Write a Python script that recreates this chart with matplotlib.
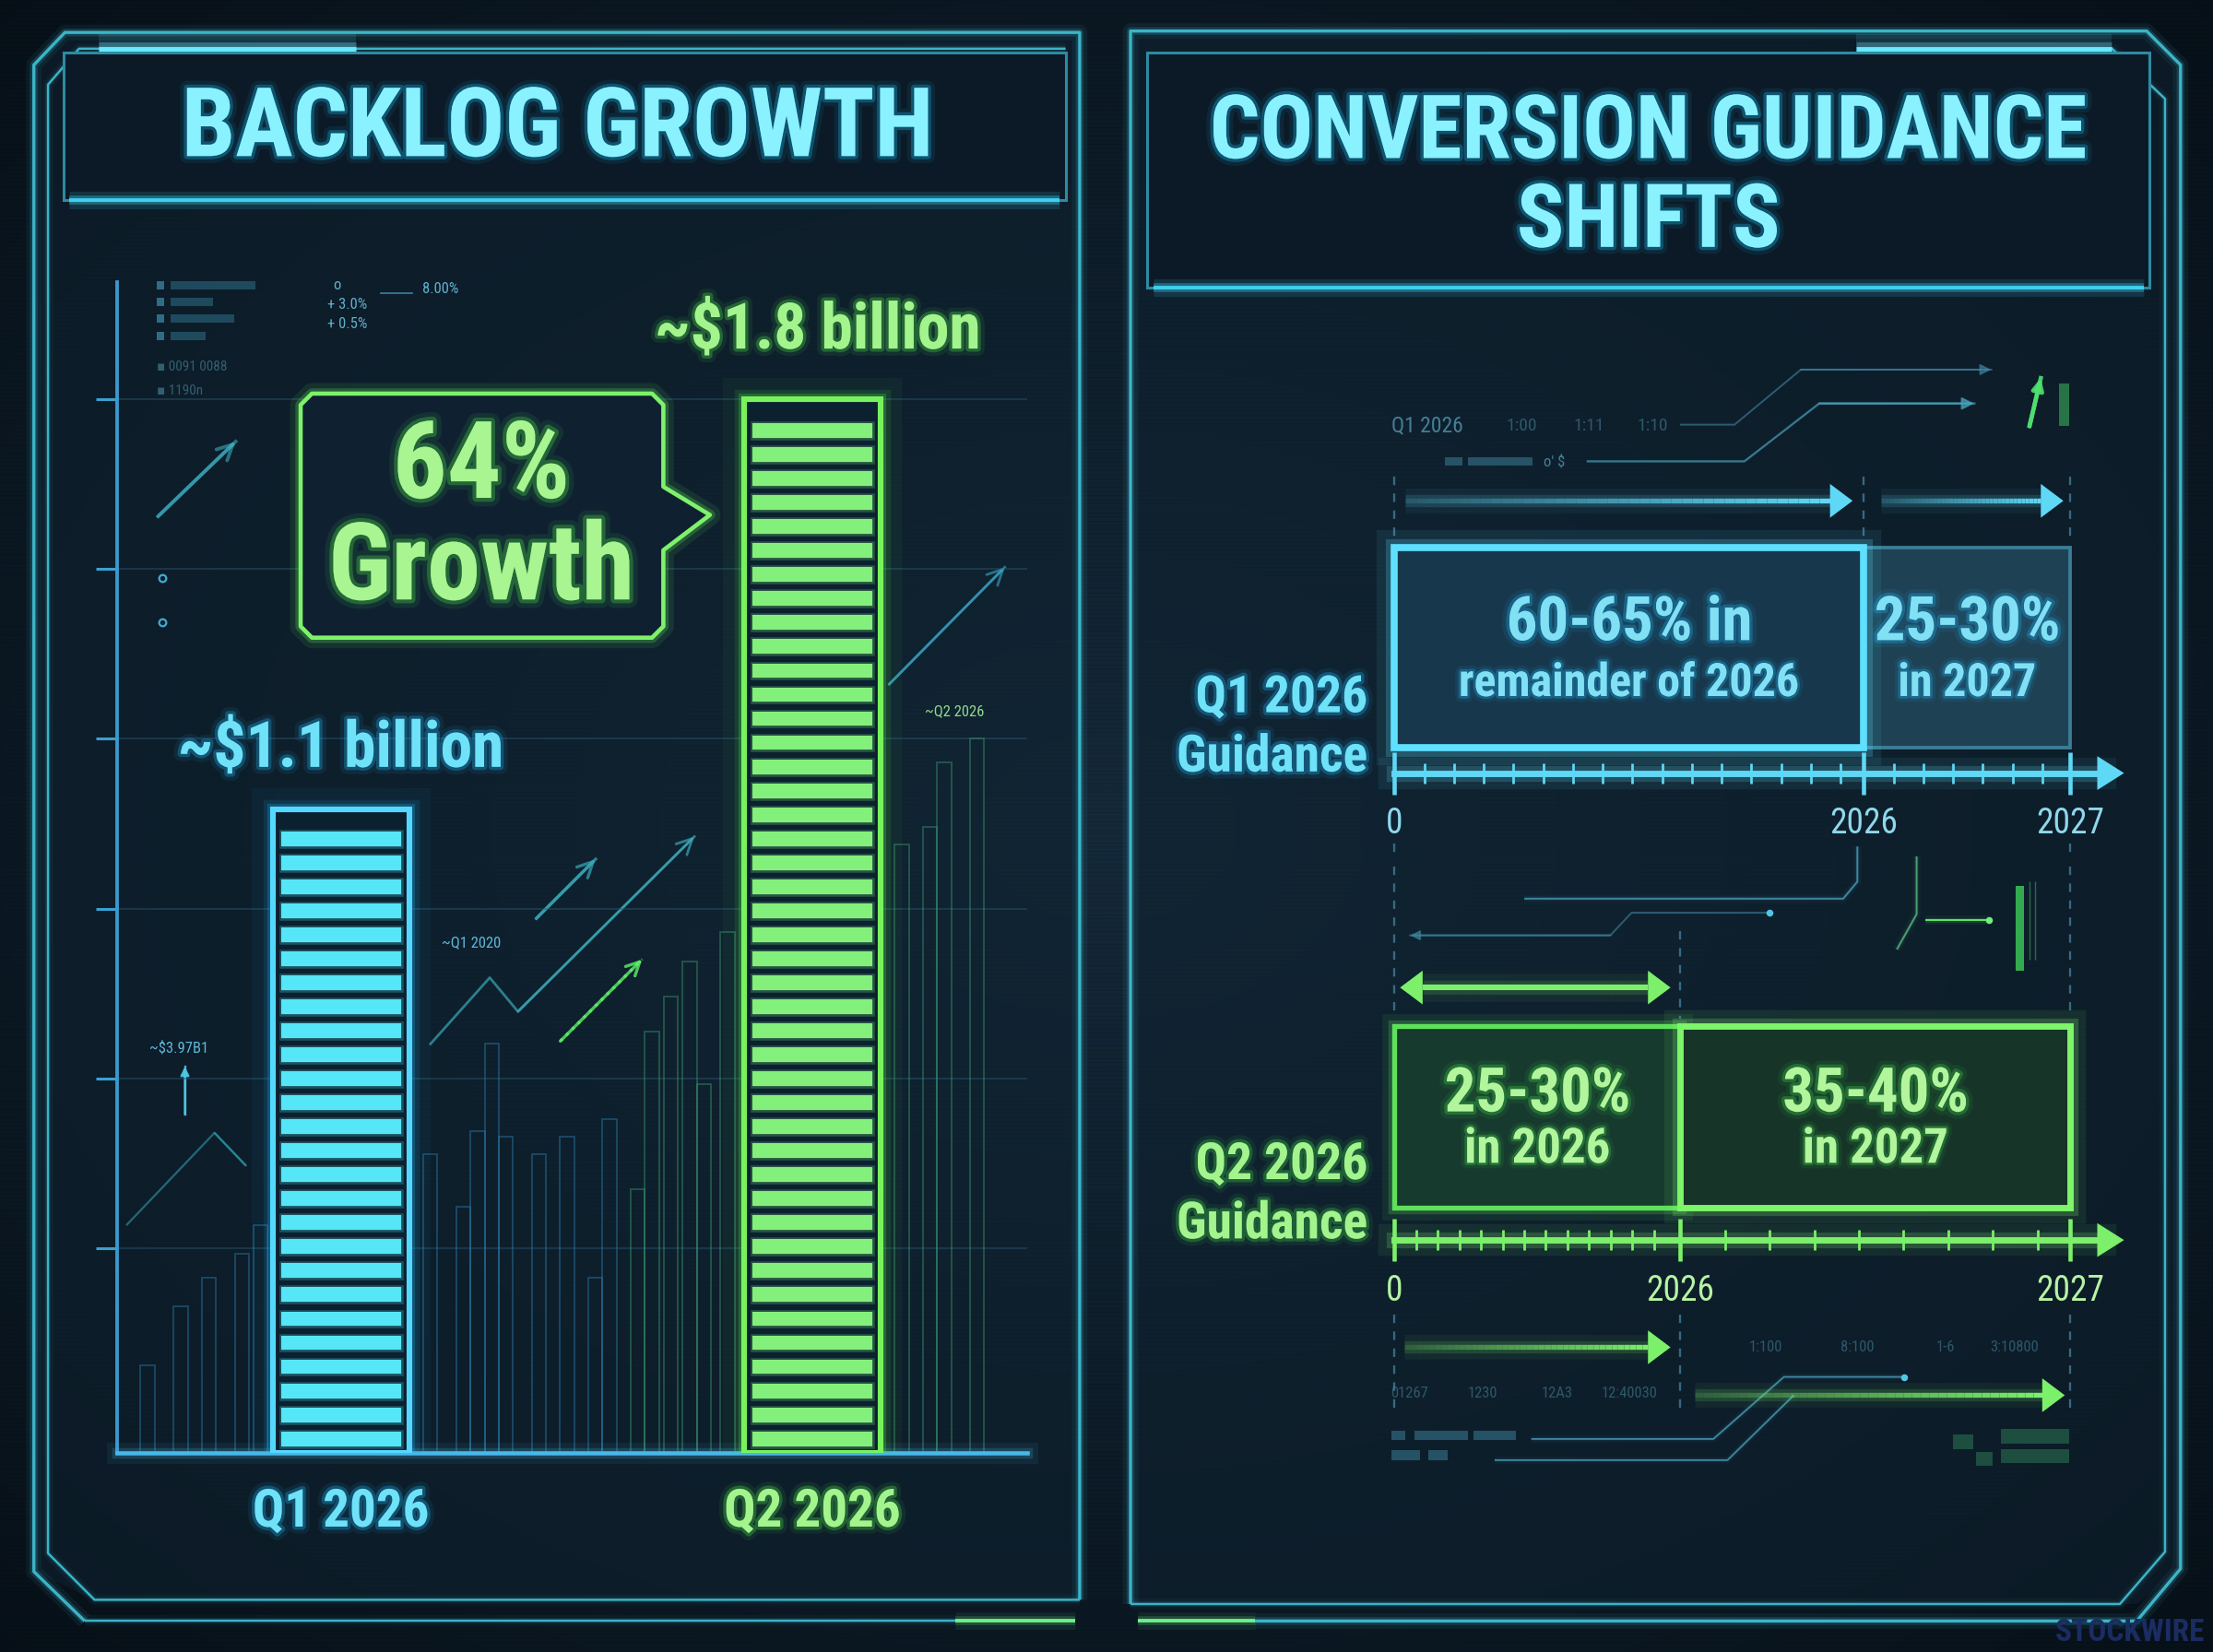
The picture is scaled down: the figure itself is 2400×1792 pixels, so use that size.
import numpy as np
import matplotlib
matplotlib.use('Agg')
import matplotlib.pyplot as plt
import matplotlib.patheffects as pe
from matplotlib import font_manager
from matplotlib.patches import Polygon, Rectangle
from matplotlib.collections import LineCollection
from matplotlib.ticker import FixedLocator

# ---------------- data ----------------
quarters = ['Q1 2026', 'Q2 2026']
backlog_bn = [1.1, 1.8]
bar_labels = ['~$1.1 billion', '~$1.8 billion']

row_labels = ['Q1 2026\nGuidance', 'Q2 2026\nGuidance']
q1_ranges = [(60, 65), (25, 30)]
q2_ranges = [(25, 30), (35, 40)]
q1_texts = [('60-65% in', 'remainder of 2026'), ('25-30%', 'in 2027')]
q2_texts = [('25-30%', 'in 2026'), ('35-40%', 'in 2027')]
axis_labels = ['0', '2026', '2027']

# faint backdrop columns behind the backlog bars (x in bar slots, height in $bn)
bg_x = [-0.41, -0.34, -0.28, -0.21, -0.17, 0.19, 0.26, 0.29, 0.32, 0.35, 0.42,
        0.48, 0.54, 0.57, 0.63, 0.66, 0.70, 0.74, 0.77, 0.82, 1.19, 1.25, 1.28, 1.35]
bg_h = [0.15, 0.25, 0.30, 0.34, 0.39, 0.51, 0.42, 0.55, 0.70, 0.54, 0.51,
        0.54, 0.30, 0.57, 0.45, 0.72, 0.78, 0.84, 0.63, 0.89, 1.04, 1.07, 1.18, 1.22]

# ---------------- fonts ----------------
_names = {f.name for f in font_manager.fontManager.ttflist}
COND = [n for n in ['Roboto Condensed', 'Liberation Sans Narrow', 'DejaVu Sans Condensed',
                    'Open Sans Condensed'] if n in _names] + ['DejaVu Sans']
plt.rcParams['font.family'] = COND
plt.rcParams['font.stretch'] = 'condensed'

W, H = 1568, 1171          # reference layout units
P = 2400 / W * 0.72        # points per layout unit

CYAN = '#6fe2f8'
CYAN_T = '#8af2ff'
GREEN = '#a4f48e'
FRAME = '#3cb4c8'


def tglow(c, w=6, a=0.35):
    return [pe.Stroke(linewidth=w * 2.2, foreground=c, alpha=a * 0.3),
            pe.Stroke(linewidth=w, foreground=c, alpha=a),
            pe.Normal()]


def lglow(c, lw, a=0.2):
    return [pe.Stroke(linewidth=lw * 5, foreground=c, alpha=a * 0.4),
            pe.Stroke(linewidth=lw * 2.5, foreground=c, alpha=a),
            pe.Normal()]


fig = plt.figure(figsize=(24, 17.92), dpi=100)
fig.patch.set_facecolor('#09141e')

# ---------------- background layer ----------------
bg = fig.add_axes([0, 0, 1, 1], zorder=0)
yy, xx = np.mgrid[0:H:4, 0:W:4]
r = np.sqrt(((xx - W / 2) / (W / 2)) ** 2 + ((yy - H / 2) / (H / 2)) ** 2)
c0 = np.array([0x14, 0x29, 0x39]) / 255
c1 = np.array([0x07, 0x10, 0x18]) / 255
t = np.clip(r / 1.45, 0, 1)[..., None]
bg.imshow(c0 * (1 - t) + c1 * t, extent=(0, W, H, 0), aspect='auto',
          interpolation='bilinear', zorder=0)
bg.set_xlim(0, W)
bg.set_ylim(H, 0)
bg.axis('off')
bg.hlines(np.arange(0, H, 3), 0, W, color='black', lw=0.5, alpha=0.12, zorder=0.5)


def gline(pts, c=FRAME, lw=2.0, a=0.2, z=2, ax=bg, **kw):
    xs, ys = zip(*pts)
    ax.plot(xs, ys, color=c, lw=lw * P, solid_capstyle='butt', zorder=z,
            path_effects=lglow(c, lw * P, a), **kw)


def arrow(pts, c, lw=1.5, a=0.8, ls='-', style='->', ms=22, ax=bg):
    xs, ys = zip(*pts)
    ax.plot(xs, ys, color=c, lw=lw * P, alpha=a, ls=ls, zorder=2)
    ax.annotate('', xy=pts[-1], xytext=pts[-2], zorder=2,
                arrowprops=dict(arrowstyle=style, color=c, lw=lw * P, alpha=a,
                                shrinkA=0, shrinkB=0, mutation_scale=ms))


# panel fills
bg.add_patch(Polygon([(24, 46), (46, 23), (765, 23), (765, 1134), (67, 1134), (24, 1114)],
                     closed=True, fc='#0f2230', ec='none', alpha=0.55, zorder=1))
bg.add_patch(Polygon([(801, 22), (1521, 22), (1545, 46), (1545, 1112), (1514, 1137), (801, 1137)],
                     closed=True, fc='#0f2230', ec='none', alpha=0.55, zorder=1))

# left panel frame
gline([(60, 1149), (24, 1114), (24, 46), (46, 23), (765, 23), (765, 1134)], lw=2.2)
gline([(765, 1134), (67, 1134), (34, 1101), (34, 60), (56, 34.5), (755, 34.5)], lw=1.6, a=0.12)
gline([(60, 1149), (677, 1149)], lw=1.6, a=0.12)
gline([(677, 1149), (762, 1149)], c='#6ff08a', lw=2.5)
gline([(70, 35.6), (252, 35.6)], c='#6ae8ff', lw=4.5, a=0.3)
# right panel frame
gline([(801, 1137), (801, 22), (1521, 22), (1545, 46), (1545, 1112), (1514, 1149), (889, 1149)], lw=2.2)
gline([(1496, 34), (1534, 70), (1534, 1100), (1502, 1137), (801, 1137)], lw=1.6, a=0.12)
gline([(806, 1149), (889, 1149)], c='#6ff08a', lw=2.5)
gline([(1315, 35), (1496, 35)], c='#6ae8ff', lw=4.5, a=0.3)

# title boxes
for (x0, y0, x1, y1) in [(45, 37.5, 755, 142), (813, 37, 1523, 204)]:
    bg.add_patch(Rectangle((x0, y0), x1 - x0, y1 - y0, fc='#0b1a26', ec='#2d8aa2',
                           lw=2 * P, zorder=2))
    gline([(x0 + 4, y1), (x1 - 4, y1)], c='#3fd0f0', lw=2.5, a=0.35, z=3)

bg.text(395, 92, 'BACKLOG GROWTH', ha='center', va='center', fontsize=75,
        fontweight='bold', color=CYAN_T, zorder=4, path_effects=tglow('#18b8f0', 5, 0.3))
bg.text(1168, 95, 'CONVERSION GUIDANCE', ha='center', va='center', fontsize=69,
        fontweight='bold', color=CYAN_T, zorder=4, path_effects=tglow('#18b8f0', 5, 0.3))
bg.text(1168, 158, 'SHIFTS', ha='center', va='center', fontsize=69,
        fontweight='bold', color=CYAN_T, zorder=4, path_effects=tglow('#18b8f0', 5, 0.3))

# left panel decorations
dim = '#3e8fae'
for yy_, ww in zip([202, 214, 226, 238], [60, 30, 45, 25]):
    bg.add_patch(Rectangle((111, yy_ - 3), 5, 6, fc=dim, ec='none', alpha=0.7, zorder=2))
    bg.add_patch(Rectangle((121, yy_ - 3), ww, 6, fc=dim, ec='none', alpha=0.4, zorder=2))
bg.plot([270, 292], [208, 208], color=dim, lw=1.2 * P, alpha=0.8)
small = dict(fontsize=12, color='#5fb0cc', fontweight='normal', va='center', zorder=2)
bg.text(299, 205, '8.00%', **small)
bg.text(232, 216, '+ 3.0%', **small)
bg.text(232, 230, '+ 0.5%', **small)
bg.text(236, 202, 'o', **small)
bg.text(111, 260, '▪ 0091 0088', alpha=0.45, **dict(small, fontsize=11))
bg.text(111, 277, '▪ 1190n', alpha=0.45, **dict(small, fontsize=11))
bg.plot([115, 115], [410, 441], ls='none', marker='o', ms=5 * P, mfc='none',
        mec='#3fa8d0', mew=1.5 * P, zorder=2)
arrow([(112, 366), (167, 313)], '#3fb8c8', lw=2.5, a=0.55, style='->', ms=30)
arrow([(90, 868), (152, 803), (174, 826)], '#2f9aa8', lw=1.5, a=0.6, style='-')
arrow([(131, 790), (131, 756)], '#4fc8e8', lw=1.5, a=0.9, style='-|>', ms=14)
bg.text(106, 743, '~$3.97B1', **dict(small, color='#5fb8d8'))
arrow([(305, 740), (347, 693), (367, 717), (492, 593)], '#3aa8b8', lw=1.8, a=0.7, ms=30)
arrow([(380, 651), (422, 609)], '#3aa8b8', lw=2.2, a=0.7, ms=30)
arrow([(397, 738), (455, 680)], '#5ff06a', lw=2.2, a=0.8, ls=':', ms=26)
bg.text(313, 668, '~Q1 2020', **dict(small, color='#5fb8d8'))
arrow([(630, 485), (712, 402)], '#3aa8c8', lw=1.8, a=0.6, ms=30)
bg.text(655, 504, '~Q2 2026', **dict(small, color='#8fd890'))

# right panel decorations
rdim = '#3f86a0'
rsmall = dict(fontsize=14, color='#4f90aa', fontweight='normal', va='center', zorder=2, alpha=0.85)
bg.text(986, 302, 'Q1 2026', **dict(rsmall, fontsize=17))
for xx_, s_ in zip([1067, 1115, 1160], ['1:00', '1:11', '1:10']):
    bg.text(xx_, 302, s_, **dict(rsmall, alpha=0.5))
arrow([(1191, 301), (1229, 301), (1276, 262), (1411, 262)], rdim, lw=1.3, a=0.6, style='-|>', ms=18)
arrow([(1125, 327), (1236, 327), (1289, 286), (1399, 286)], '#4aa0b8', lw=1.5, a=0.7, style='-|>', ms=20)
for x0_, w_ in [(1024, 12), (1040, 46)]:
    bg.add_patch(Rectangle((x0_, 324), w_, 6, fc=rdim, ec='none', alpha=0.5, zorder=2))
bg.text(1094, 327, "o' $", **dict(rsmall, fontsize=12))
arrow([(1438, 302), (1446, 268)], '#4fe070', lw=3, a=0.9, style='-|>', ms=18)
bg.add_patch(Rectangle((1459, 272), 7, 30, fc='#2f8a50', ec='none', alpha=0.8, zorder=2))
gline([(1316, 600), (1316, 625), (1306, 637), (1080, 637)], c=rdim, lw=1.3, a=0.1)
arrow([(1254, 647), (1156, 647), (1141, 663), (999, 663)], rdim, lw=1.3, a=0.6, style='-|>', ms=16)
bg.plot([1254], [647], 'o', ms=4 * P, color='#4fc8e8', zorder=3)
gline([(1358, 607), (1358, 648), (1344, 673)], c='#4aa070', lw=1.3, a=0.1)
gline([(1364, 652), (1409, 652)], c='#5ee06a', lw=1.3, a=0.15)
bg.plot([1409], [652], 'o', ms=4 * P, color='#6ff07a', zorder=3)
bg.add_patch(Rectangle((1428, 628), 6, 60, fc='#3fcf5a', ec='none', alpha=0.8, zorder=2))
bg.vlines([1438, 1442], 625, 680, color='#3fa05a', lw=1, alpha=0.6, zorder=2)

for xx_, s_ in zip([1239, 1304, 1372, 1410], ['1:100', '8:100', '1-6', '3:10800']):
    bg.text(xx_, 955, s_, **dict(rsmall, fontsize=12, alpha=0.5))
for xx_, s_ in zip([985, 1040, 1092, 1135], ['01267', '1230', '12A3', '12:40030']):
    bg.text(xx_, 988, s_, **dict(rsmall, fontsize=12, alpha=0.5))
gline([(1085, 1020), (1214, 1020), (1264, 976), (1349, 976)], c=rdim, lw=1.2, a=0.1)
bg.plot([1349], [976], 'o', ms=4 * P, color='#4fc8e8', zorder=3)
gline([(1059, 1035), (1224, 1035), (1271, 989)], c=rdim, lw=1.2, a=0.1)
for x0_, y0_, w_ in [(986, 1014, 10), (1002, 1014, 38), (1044, 1014, 30), (986, 1028, 20), (1012, 1028, 14)]:
    bg.add_patch(Rectangle((x0_, y0_), w_, 7, fc=rdim, ec='none', alpha=0.5, zorder=2))
for x0_, y0_, w_ in [(1384, 1017, 14), (1418, 1013, 48), (1400, 1029, 12), (1418, 1027, 48)]:
    bg.add_patch(Rectangle((x0_, y0_), w_, 10, fc='#2a7050', ec='none', alpha=0.6, zorder=2))

bg.text(1562, 1157, 'STOCKWIRE', fontsize=24, fontweight='bold', color='#1a2c62',
        va='center', ha='right', zorder=3)

# ---------------- backlog bar chart ----------------
ax = fig.add_axes([83 / W, 1 - 1030 / H, (728 - 83) / W, (1030 - 200) / H], zorder=2)
ax.set_facecolor('none')
ax.set_xlim(-0.4746, 1.4566)
ax.set_ylim(0, 2.0)
bar_w = 0.29
edge_c = ['#55d8ff', '#78f25c']
fill_c = ['#55e6f7', '#82f07a']
label_c = [CYAN, GREEN]
glow_c = ['#1fb0f0', '#4ee04a']

bgc = ['#2b7fae' if x < 0.6 else '#3a9a70' for x in bg_x]
ax.bar(bg_x, bg_h, width=0.03, fill=False, edgecolor=bgc, lw=1.2 * P, alpha=0.45, zorder=1)

bars = ax.bar(range(len(quarters)), backlog_bn, width=bar_w, facecolor='#0b2130',
              edgecolor=edge_c, lw=4 * P, zorder=3)
for b, gc in zip(bars, glow_c):
    b.set_path_effects([pe.Stroke(linewidth=30 * P, foreground=gc, alpha=0.05),
                        pe.Stroke(linewidth=14 * P, foreground=gc, alpha=0.12),
                        pe.Stroke(linewidth=8 * P, foreground=gc, alpha=0.25),
                        pe.Normal()])
pitch = 0.041
for i, h in enumerate(backlog_bn):
    bottoms = np.arange(0.012, h - 0.035, pitch)
    ax.bar(np.full(len(bottoms), i), 0.025, bottom=bottoms, width=bar_w - 0.036,
           color=fill_c[i], zorder=4,
           path_effects=[pe.Stroke(linewidth=3 * P, foreground=fill_c[i], alpha=0.25), pe.Normal()])
    ax.annotate(bar_labels[i], xy=(i, h), xytext=(4 * i * P, 42 * P + 6 * i * P),
                textcoords='offset points', ha='center', va='center', fontsize=50,
                fontweight='bold', color=label_c[i], zorder=5,
                path_effects=tglow(glow_c[i], 5, 0.3))

ax.set_yticks([0.35, 0.64, 0.93, 1.22, 1.51, 1.80])
ax.yaxis.grid(True, color='#2a5a70', lw=1.0 * P, alpha=0.55)
ax.set_axisbelow(True)
ax.tick_params(axis='y', length=15 * P, width=2 * P, color='#3aa0d0', labelleft=False)
ax.set_xticks(range(len(quarters)))
ax.set_xticklabels(quarters, fontsize=41, fontweight='bold')
ax.tick_params(axis='x', length=0, pad=24 * P)
for lab, c, gc in zip(ax.get_xticklabels(), label_c, glow_c):
    lab.set_color(c)
    lab.set_path_effects(tglow(gc, 5, 0.3))
for sp in ['top', 'right']:
    ax.spines[sp].set_visible(False)
ax.spines['left'].set_color('#3a9ad0')
ax.spines['left'].set_linewidth(2.5 * P)
ax.spines['bottom'].set_color('#48b8e8')
ax.spines['bottom'].set_linewidth(3 * P)
ax.spines['bottom'].set_path_effects(lglow('#48b8e8', 3 * P, 0.2))

# ---------------- growth callout ----------------
fg = fig.add_axes([0, 0, 1, 1], zorder=10)
fg.set_xlim(0, W)
fg.set_ylim(H, 0)
fg.axis('off')
growth = round((backlog_bn[1] / backlog_bn[0] - 1) * 100)
call = [(221, 279), (462, 279), (470, 287), (470, 345), (503, 365), (470, 390),
        (470, 444), (462, 452), (221, 452), (213, 444), (213, 287)]
fg.add_patch(Polygon(call, closed=True, fc='#0f2131', ec='#7ef26a', lw=3 * P, joinstyle='round',
                     path_effects=lglow('#5ee85a', 3 * P, 0.25)))
fg.text(341, 332, f'{growth}%', ha='center', va='center', fontsize=84, fontweight='bold',
        color='#a8f592', path_effects=tglow('#4ee04a', 6, 0.3))
fg.text(341, 404, 'Growth', ha='center', va='center', fontsize=84, fontweight='bold',
        color='#a8f592', path_effects=tglow('#4ee04a', 6, 0.3))

# ---------------- conversion guidance timelines ----------------
X0, X1 = 988, 1467
U = 1.0 / (X1 - X0)   # data units per layout unit along the timeline


def fade_arrow(tax, x0, x1, y, c, lw, hl=16, hw=12, both=False):
    n = 40
    xs = np.linspace(x0, x1 - hl * U, n + 1)
    segs = [[(xs[k], y), (xs[k + 1], y)] for k in range(n)]
    alphas = np.linspace(0.15, 1.0, n) if not both else np.ones(n)
    cols = [matplotlib.colors.to_rgba(c, a) for a in alphas]
    tax.add_collection(LineCollection(segs, colors=cols, linewidths=lw * P, zorder=3,
                                      path_effects=lglow(c, lw * P, 0.15)))
    tax.add_patch(Polygon([(x1, y), (x1 - hl * U, y - hw), (x1 - hl * U, y + hw)],
                          closed=True, fc=c, ec='none', zorder=3))
    if both:
        tax.add_patch(Polygon([(x0 - hl * U, y), (x0, y - hw), (x0, y + hw)],
                              closed=True, fc=c, ec='none', zorder=3))


def timeline(top, bottom, box_top, box_bot, axis_y, ranges, texts, label, style):
    tax = fig.add_axes([960 / W, 1 - bottom / H, (1520 - 960) / W, (bottom - top) / H], zorder=3)
    tax.set_facecolor('none')
    tax.set_xlim((960 - X0) * U, (1520 - X0) * U)
    tax.set_ylim(bottom, top)
    mids = [np.mean(rg) for rg in ranges]
    split = mids[0] / sum(mids)
    hgt = box_bot - box_top
    spans = [(0, split), (split, 1)]
    for k, (a, b) in enumerate(spans):
        rect = Rectangle((a, box_top), b - a, hgt, fc=style['face'][k], ec=style['edge'][k],
                         lw=style['lw'][k] * P, zorder=2 + k * 0.1 + style['top'][k])
        if style['glow'][k]:
            rect.set_path_effects(lglow(style['edge'][k], style['lw'][k] * P, 0.22))
        tax.add_patch(rect)
        cx = (a + b) / 2
        tax.text(cx, box_top + 0.38 * hgt, texts[k][0], ha='center', va='center', fontsize=48,
                 fontweight='bold', color=style['text'], zorder=5,
                 path_effects=tglow(style['tglow'], 5, 0.3))
        tax.text(cx, box_top + 0.68 * hgt, texts[k][1], ha='center', va='center',
                 fontsize=style['sub'][k], fontweight='bold', color=style['text'], zorder=5,
                 path_effects=tglow(style['tglow'], 4, 0.3))
    l1, l2 = label.split('\n')
    tax.text(-19 * U, axis_y - 53, l1, ha='right', va='center', fontsize=40, fontweight='bold',
             color=style['label'], path_effects=tglow(style['tglow'], 5, 0.3))
    tax.text(-19 * U, axis_y - 11, l2, ha='right', va='center', fontsize=40, fontweight='bold',
             color=style['label'], path_effects=tglow(style['tglow'], 5, 0.3))
    # axis with arrow
    ac = style['axis']
    for sp in ['top', 'right', 'left']:
        tax.spines[sp].set_visible(False)
    tax.spines['bottom'].set_position(('data', axis_y))
    tax.spines['bottom'].set_bounds(0, 1.045)
    tax.spines['bottom'].set_color(ac)
    tax.spines['bottom'].set_linewidth(4.5 * P)
    tax.spines['bottom'].set_path_effects(lglow(ac, 4.5 * P, 0.2))
    tax.add_patch(Polygon([((1505 - X0) * U, axis_y), ((1486 - X0) * U, axis_y - 12),
                           ((1486 - X0) * U, axis_y + 12)], closed=True, fc=ac, ec='none',
                          zorder=3, clip_on=False))
    tax.set_yticks([])
    tax.set_xticks([0, split, 1])
    tax.set_xticklabels(axis_labels, fontsize=27, fontweight='normal')
    left_m = np.arange(1, 40) * style['step'][0]
    right_m = split + np.arange(1, 40) * style['step'][1]
    minors = [m for m in np.concatenate([left_m[left_m < split - 0.01],
                                         right_m[right_m < 0.99]])]
    tax.xaxis.set_minor_locator(FixedLocator(minors))
    tax.tick_params(axis='x', which='major', direction='inout', length=30 * P, width=3 * P,
                    color=ac, labelcolor=style['tick'], pad=9 * P)
    tax.tick_params(axis='x', which='minor', direction='inout', length=15 * P, width=1.8 * P,
                    color=ac)
    return tax, split


q1_style = dict(face=['#17384c', '#1e4254'], edge=['#5fe0ff', '#3c7d95'], lw=[5, 2.5],
                glow=[True, False], top=[1, 0], text='#82e0f4', tglow='#1fb0f0',
                sub=[36, 36], label=CYAN, axis='#5fd8f5', tick='#8fd8ec', step=[0.044, 0.044])
q2_style = dict(face=['#173a2e', '#163528'], edge=['#5ee05a', '#7ef56a'], lw=[3.5, 4.5],
                glow=[True, True], top=[0, 1], text='#b2f59c', tglow='#3ed04a',
                sub=[38, 38], label=GREEN, axis='#7cf06a', tick='#b6f3a3', step=[0.032, 0.066])

t1, s1 = timeline(330, 610, 388, 530, 548, q1_ranges, q1_texts, row_labels[0], q1_style)
t2, s2 = timeline(612, 1010, 727, 856, 879, q2_ranges, q2_texts, row_labels[1], q2_style)

dash = (0, (4, 4))
t1.vlines([0, s1, 1], 338, 382, colors='#4a8aa8', linestyles=dash, lw=1.5 * P, alpha=0.7)
t1.vlines([0, 1], 598, 610, colors='#4a8aa8', linestyles=dash, lw=1.5 * P, alpha=0.7)
fade_arrow(t1, 8 * U, s1 - 8 * U, 355, '#5fd8f5', 3.5)
fade_arrow(t1, s1 + 12 * U, 1 - 5 * U, 355, '#5fd8f5', 3.5)

t2.vlines([0, 1], 614, 722, colors='#4a8aa8', linestyles=dash, lw=1.5 * P, alpha=0.7)
t2.vlines([s2], 660, 722, colors='#4a8aa8', linestyles=dash, lw=1.5 * P, alpha=0.7)
t2.vlines([0, s2, 1], 932, 1002, colors='#4a8aa8', linestyles=dash, lw=1.5 * P, alpha=0.7)
fade_arrow(t2, 20 * U, s2 - 7 * U, 700, '#7cf06a', 4, both=True)
fade_arrow(t2, 7 * U, s2 - 7 * U, 955, '#7cf06a', 3.5)
fade_arrow(t2, s2 + 10 * U, 1 - 4 * U, 989, '#7cf06a', 3.5)

fig.savefig('out.png', dpi=100, facecolor=fig.get_facecolor())
